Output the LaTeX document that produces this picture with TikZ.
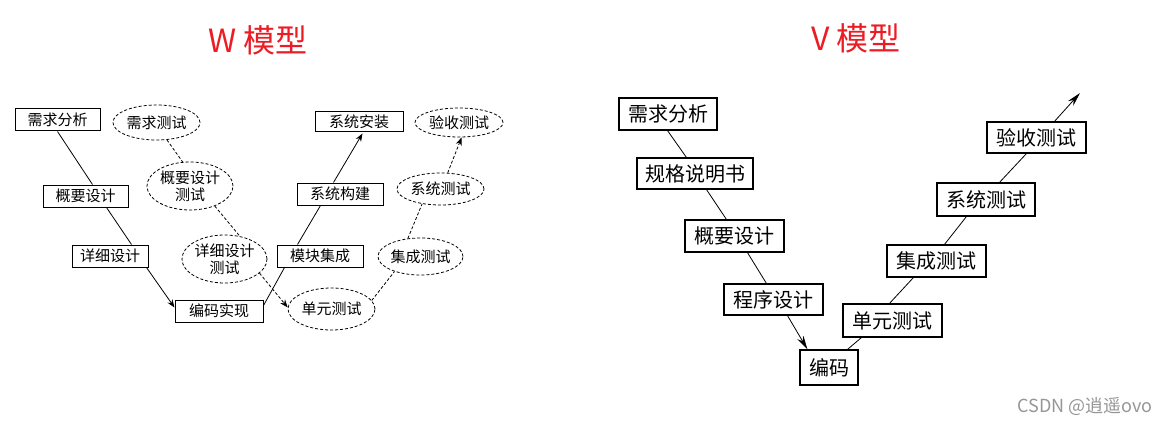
\documentclass[tikz,border=0pt]{standalone}
\usepackage{fontspec}
\setmainfont{Noto Sans CJK SC}
\usetikzlibrary{shapes.geometric,arrows.meta,calc}
\definecolor{titlered}{RGB}{236,28,36}
\definecolor{wmgray}{RGB}{150,150,150}
\begin{document}
\begin{tikzpicture}[x=1pt,y=-1pt,
  wbox/.style={draw,line width=1pt,inner sep=0pt,font=\fontsize{15}{17}\selectfont},
  well/.style={draw,dashed,dash pattern=on 3pt off 2pt,line width=0.8pt,ellipse,inner sep=0pt,font=\fontsize{15}{17}\selectfont,align=center},
  vbox/.style={draw,line width=1.1pt,inner sep=0pt,font=\fontsize{20}{23}\selectfont},
  wline/.style={line width=0.8pt},
  dline/.style={line width=0.8pt,dash pattern=on 3pt off 2pt},
  wtip/.style={-{Stealth[length=8pt,width=6pt]}},
  vtip/.style={-{Stealth[length=14pt,width=7pt]}},
  title/.style={font=\fontsize{32}{36}\selectfont,text=titlered}
]
\useasboundingbox (0,0) rectangle (1172,425);

% titles
\node[title] (wt) at (258,40) {W 模型};
\node[title] (vt) at (856,38) {V 模型};

% ---------- W model ----------
\node[wbox,minimum width=85pt,minimum height=22pt] (rq) at (57.5,120) {需求分析};
\node[wbox,minimum width=85pt,minimum height=22pt] (gy) at (85.5,196) {概要设计};
\node[wbox,minimum width=76pt,minimum height=22pt] (xx) at (110,256) {详细设计};
\node[wbox,minimum width=88pt,minimum height=22pt] (bm) at (219,311) {编码实现};
\node[wbox,minimum width=86pt,minimum height=22pt] (mk) at (320,256) {模块集成};
\node[wbox,minimum width=86pt,minimum height=22pt] (gj) at (340,194) {系统构建};
\node[wbox,minimum width=88pt,minimum height=20pt] (xz) at (359,122) {系统安装};

\node[well,minimum width=87pt,minimum height=35pt] (xq) at (156.5,122.5) {需求测试};
\node[well,minimum width=86pt,minimum height=48pt] (gt) at (190,186) {概要设计\\测试};
\node[well,minimum width=85pt,minimum height=48pt] (xt) at (224.5,259) {详细设计\\测试};
\node[well,minimum width=87pt,minimum height=42pt] (dy) at (331.5,309) {单元测试};
\node[well,minimum width=85pt,minimum height=37pt] (jc) at (420.5,256.5) {集成测试};
\node[well,minimum width=87pt,minimum height=32pt] (xc) at (440.5,189) {系统测试};
\node[well,minimum width=88pt,minimum height=29pt] (ys) at (459,122.5) {验收测试};

% solid W lines
\draw[wline] ($(rq.south west)+(43,0)$) -- ($(gy.north west)+(50,0)$);
\draw[wline] ($(gy.south west)+(64,0)$) -- ($(xx.north west)+(60,0)$);
\draw[wline,wtip] ($(xx.south west)+(75,0)$) -- ($(bm.north west)+(0,8)$);
\draw[wline] ($(bm.north east)+(0,6)$) -- ($(mk.south west)+(8,0)$);
\draw[wline] ($(mk.north west)+(21,0)$) -- ($(gj.south west)+(24,0)$);
\draw[wline,wtip] ($(gj.north west)+(37,0)$) -- ($(xz.south west)+(48,1)$);

% dashed W lines
\draw[dline] (xq.-59) -- (gt.107);
\draw[dline] (gt.-39) -- (xt.56);
\draw[dline,wtip] (xt.-22) -- (dy.178);
\draw[dline] (dy.12) -- (jc.210);
\draw[dline] (jc.125) -- (xc.219);
\draw[dline,wtip] (xc.66) -- (ys.-80);

% ---------- V model ----------
\node[vbox,minimum width=98pt,minimum height=32pt] (vrq) at (668,114) {需求分析};
\node[vbox,minimum width=116pt,minimum height=31pt] (vgg) at (695,173.5) {规格说明书};
\node[vbox,minimum width=99pt,minimum height=32pt] (vgy) at (734.5,236) {概要设计};
\node[vbox,minimum width=99pt,minimum height=31pt] (vcx) at (773.5,299.5) {程序设计};
\node[vbox,minimum width=58pt,minimum height=35pt] (vbm) at (829,367.5) {编码};
\node[vbox,minimum width=99pt,minimum height=33pt] (vdy) at (892.5,320.5) {单元测试};
\node[vbox,minimum width=99pt,minimum height=32pt] (vjc) at (936.5,261) {集成测试};
\node[vbox,minimum width=98pt,minimum height=33pt] (vxc) at (986,199.5) {系统测试};
\node[vbox,minimum width=99pt,minimum height=31pt] (vys) at (1036.5,137.5) {验收测试};
\coordinate (vend) at (1080,93);

\draw[wline] ($(vrq.south west)+(49,0)$) -- ($(vgg.north west)+(50,0)$);
\draw[wline] ($(vgg.south west)+(70,0)$) -- ($(vgy.north west)+(42,0)$);
\draw[wline] ($(vgy.south west)+(63,0)$) -- ($(vcx.north west)+(43,0)$);
\draw[wline,vtip] ($(vcx.south west)+(64,0)$) -- ($(vbm.north west)+(8,0)$);
\draw[wline] ($(vbm.north west)+(48,0)$) -- ($(vdy.south west)+(19,0)$);
\draw[wline] ($(vdy.north west)+(47,0)$) -- ($(vjc.south west)+(27,0)$);
\draw[wline] ($(vjc.north west)+(58,0)$) -- ($(vxc.south west)+(30,0)$);
\draw[wline] ($(vxc.north west)+(63,0)$) -- ($(vys.south west)+(40,0)$);
\draw[wline,vtip] ($(vys.north west)+(68,0)$) -- (vend);

% watermark
\node[font=\fontsize{18}{20}\selectfont,text=wmgray] (wm) at (1085,407) {CSDN @逍遥ovo};
\end{tikzpicture}
\end{document}
